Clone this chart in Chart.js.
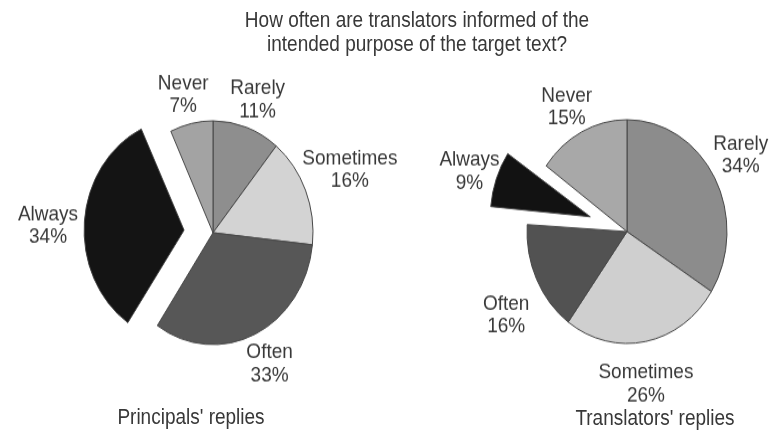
<!DOCTYPE html>
<html>
<head>
<meta charset="utf-8">
<script src="https://cdn.jsdelivr.net/npm/chart.js@4/dist/chart.umd.min.js"></script>
<style>
  html, body { margin: 0; padding: 0; background: #ffffff; width: 769px; height: 443px; overflow: hidden; }
  /* the whole figure is drawn slightly taller than wide */
  #stage {
    position: absolute; left: 0; top: 0; width: 769px; height: 396px;
    transform: scaleY(1.11869); transform-origin: 0 0;
    font-family: "Liberation Sans", Arial, sans-serif; color: #383838;
  }
  .pie { position: absolute; }
  #left { left: 13px; top: 8px; }
  #right { left: 427px; top: 7px; }
  .title { position: absolute; left: 217px; width: 400px; top: 7px; text-align: center; font-size: 19px; line-height: 22.3px; white-space: nowrap; }
  .sub { position: absolute; width: 220px; text-align: center; font-size: 19px; line-height: 22px; white-space: nowrap; }
  #subLeft { left: 81px; top: 362px; }
  #subRight { left: 545px; top: 363px; }
</style>
</head>
<body>
<div id="stage">
  <div class="title" id="title"></div>
  <canvas class="pie" id="left" width="400" height="400"></canvas>
  <canvas class="pie" id="right" width="400" height="400"></canvas>
  <div class="sub" id="subLeft"></div>
  <div class="sub" id="subRight"></div>
</div>
<script>
// Answer categories, in drawing order clockwise from 12 o'clock
const categories = ['Rarely', 'Sometimes', 'Often', 'Always', 'Never'];
// Percentages per group
const principalsValues = [11, 16, 33, 34, 7];
const translatorsValues = [34, 26, 16, 9, 15];
// Text
const titleLines = ['How often are translators informed of the', 'intended purpose of the target text?'];
const principalsCaption = "Principals' replies";
const translatorsCaption = "Translators' replies";

document.getElementById('title').innerHTML = titleLines.join('<br>');
document.getElementById('subLeft').textContent = principalsCaption;
document.getElementById('subRight').textContent = translatorsCaption;

const LABEL_FONT = '19px "Liberation Sans", Arial, sans-serif';

// An exploded arc is also drawn with a slightly larger radius; undo that so
// the pulled-out slice keeps the same radius as the rest of the pie.
const keepRadius = {
  id: 'keepRadius',
  afterDatasetsUpdate(chart) {
    chart.getDatasetMeta(0).data.forEach(arc => {
      const off = (arc.options.offset || 0) / 4;
      if (!off) return;
      const circ = arc.endAngle - arc.startAngle;
      arc.outerRadius -= off * (1 - Math.sin(Math.min(Math.PI, circ)));
    });
  }
};

// Two-line "name / value%" labels set outside each slice along its bisector
function sliceLabels(nudges) {
  return {
    id: 'sliceLabels',
    afterDatasetsDraw(chart) {
      const ctx = chart.ctx;
      const meta = chart.getDatasetMeta(0);
      const values = chart.data.datasets[0].data;
      const R = meta.controller.outerRadius;
      const lineHeight = 20.5, halfHeight = 19, gap = 0;
      ctx.save();
      ctx.font = LABEL_FONT;
      ctx.fillStyle = '#383838';
      ctx.textAlign = 'center';
      ctx.textBaseline = 'middle';
      meta.data.forEach((arc, i) => {
        const p = arc.getProps(['x', 'y', 'startAngle', 'endAngle'], true);
        const mid = (p.startAngle + p.endAngle) / 2;
        const ux = Math.cos(mid), uy = Math.sin(mid);
        // the arc element pulls a slice out by a quarter of its offset option
        const off = (arc.options.offset || 0) / 4;
        const lines = [chart.data.labels[i], values[i] + '%'];
        const hw = Math.max(...lines.map(t => ctx.measureText(t).width)) / 2;
        const r = R + off + gap + hw * Math.abs(ux) + halfHeight * Math.abs(uy);
        const n = nudges[i] || [0, 0];
        const cx = p.x + ux * r + n[0];
        const cy = p.y + uy * r + n[1];
        ctx.fillText(lines[0], cx, cy - lineHeight / 2);
        ctx.fillText(lines[1], cx, cy + lineHeight / 2);
      });
      ctx.restore();
    }
  };
}

function makePie(id, values, colors, explode, nudges) {
  return new Chart(document.getElementById(id), {
    type: 'pie',
    data: {
      labels: categories,
      datasets: [{
        data: values,
        backgroundColor: colors,
        borderColor: '#474747',
        borderWidth: 1,
        offset: categories.map(c => (c === 'Always' ? explode * 4 : 0)),
        radius: 100
      }]
    },
    options: {
      responsive: false,
      animation: false,
      layout: { padding: 0 },
      plugins: { legend: { display: false }, tooltip: { enabled: false } }
    },
    plugins: [keepRadius, sliceLabels(nudges)]
  });
}

makePie('left', principalsValues,
  ['#8e8e8e', '#d3d3d3', '#575757', '#141414', '#a3a3a3'], 29,
  [[2, 1], [-3, 1], [3, 2], [-5, 6], [-3, -2]]);

makePie('right', translatorsValues,
  ['#8c8c8c', '#cfcfcf', '#525252', '#121212', '#a8a8a8'], 39,
  [[-3, -4], [-5, 11], [-4, 20], [6, 5], [-2, 3]]);
</script>
</body>
</html>
